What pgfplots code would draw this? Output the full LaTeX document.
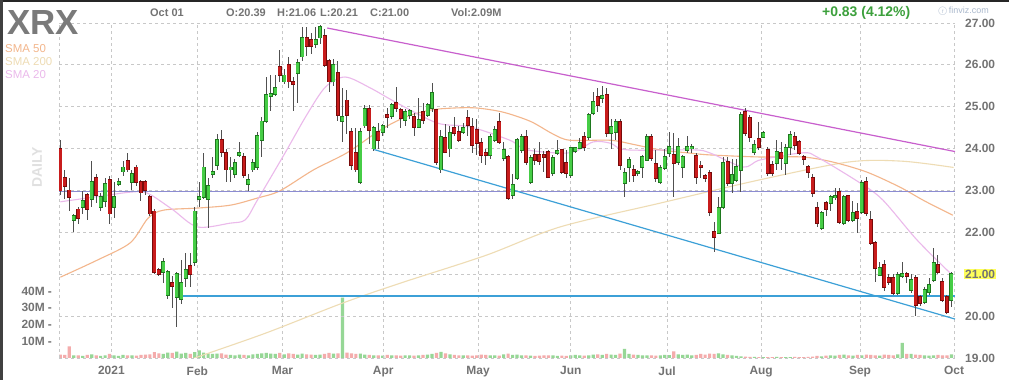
\documentclass[border=0pt]{standalone}
\usepackage{pgfplots}
\pgfplotsset{compat=1.18}
\usepackage{pgfplotstable}
\usepackage{fontspec}
\setmainfont{Liberation Sans}
\definecolor{cgreen}{RGB}{70,205,70}
\definecolor{cgreenD}{RGB}{30,120,30}
\definecolor{cred}{RGB}{200,28,28}
\definecolor{credD}{RGB}{120,10,10}
\definecolor{wickc}{RGB}{80,80,80}
\definecolor{gridc}{RGB}{200,200,200}
\definecolor{lblc}{RGB}{115,115,115}
\definecolor{sma50}{RGB}{243,182,140}
\definecolor{sma200}{RGB}{238,220,180}
\definecolor{sma20}{RGB}{235,185,235}
\definecolor{trendm}{RGB}{200,95,205}
\definecolor{trendb}{RGB}{60,160,215}
\definecolor{hline}{RGB}{140,140,210}
\definecolor{vgreen}{RGB}{150,215,150}
\definecolor{vred}{RGB}{244,172,172}
\definecolor{ylw}{RGB}{255,255,90}
\definecolor{chg}{RGB}{60,160,60}

\pgfplotstableread{
i O H L C V
0 24.00 24.20 22.90 23.00 2.0
1 23.30 23.50 22.80 23.10 1.8
2 23.00 23.30 22.50 22.85 7.0
3 22.30 22.45 22.00 22.40 1.5
4 22.55 22.60 22.20 22.35 1.6
5 22.60 23.00 22.45 22.75 1.2
6 22.90 22.95 22.30 22.55 1.8
7 22.80 23.70 22.60 23.20 2.2
8 23.30 23.40 22.70 22.90 1.5
9 22.60 22.95 22.50 22.85 1.3
10 22.75 23.30 22.60 23.15 1.6
11 23.25 23.35 22.20 22.45 2.4
12 22.60 23.20 22.35 22.85 1.5
13 23.15 23.30 23.10 23.20 1.2
14 23.45 23.70 23.35 23.55 1.8
15 23.70 23.90 23.45 23.50 1.5
16 23.20 23.50 23.00 23.40 1.6
17 23.55 23.60 23.10 23.20 1.4
18 23.20 23.25 22.75 22.95 1.8
19 23.20 23.25 22.90 23.00 2.0
20 22.85 22.90 22.40 22.45 2.2
21 22.50 22.55 21.00 21.05 3.5
22 21.10 21.15 20.95 21.00 2.8
23 21.05 21.40 20.80 21.30 2.5
24 20.50 21.10 20.40 21.05 3.2
25 20.80 20.95 20.20 20.72 3.0
26 20.45 21.05 19.75 21.00 3.8
27 20.40 21.35 20.30 20.80 2.6
28 20.90 21.50 20.70 21.10 3.0
29 21.20 21.50 20.70 21.00 2.4
30 21.30 22.60 21.20 22.50 3.5
31 22.80 23.20 22.60 22.85 4.5
32 22.85 23.90 22.80 23.55 3.2
33 22.80 23.30 22.10 23.10 2.8
34 23.40 23.80 23.30 23.45 2.4
35 23.60 24.35 23.50 24.20 2.6
36 24.20 24.45 23.80 23.92 2.8
37 23.90 24.00 23.20 23.50 2.0
38 23.50 23.80 23.20 23.55 1.8
39 23.40 23.75 23.30 23.65 1.6
40 23.85 24.15 23.80 23.90 2.0
41 23.80 23.90 23.30 23.37 1.8
42 23.15 23.40 23.00 23.25 1.6
43 23.50 23.75 23.45 23.65 2.2
44 23.55 24.40 23.50 24.30 2.5
45 24.20 24.75 23.80 24.65 2.8
46 24.65 25.70 24.60 25.28 3.0
47 25.25 25.75 24.90 25.30 2.6
48 25.30 25.75 25.25 25.45 2.4
49 25.95 26.35 25.60 25.75 3.0
50 25.60 25.90 25.55 25.75 2.2
51 26.00 26.20 25.45 25.60 2.8
52 25.60 25.70 24.90 25.55 2.4
53 25.80 26.15 25.10 26.05 2.0
54 26.20 26.90 26.10 26.65 2.6
55 26.65 26.90 26.20 26.45 2.2
56 26.60 26.75 26.25 26.45 2.0
57 26.50 26.90 26.40 26.60 1.8
58 26.65 26.95 26.50 26.90 2.0
59 26.70 26.85 25.95 26.00 2.4
60 26.10 26.15 25.35 25.60 3.0
61 25.60 26.15 25.50 26.00 2.6
62 25.80 26.10 24.65 24.80 2.8
63 24.65 25.45 24.15 24.75 36.0
64 25.15 25.40 24.35 24.80 3.2
65 24.40 24.50 23.50 23.60 2.8
66 23.90 24.50 23.45 23.50 2.4
67 23.20 24.50 23.15 24.40 2.6
68 24.55 25.05 24.50 24.95 2.0
69 24.95 25.05 24.10 24.45 1.8
70 24.00 24.55 23.95 24.50 1.6
71 24.40 24.60 24.00 24.20 1.5
72 24.40 24.60 24.30 24.55 1.4
73 24.80 24.97 24.50 24.75 1.8
74 24.78 25.10 24.70 25.04 1.6
75 25.10 25.47 24.87 24.97 1.5
76 24.92 24.97 24.50 24.73 1.4
77 24.68 24.95 24.55 24.87 1.6
78 24.80 24.95 24.70 24.90 1.5
79 24.76 24.85 24.30 24.52 1.4
80 24.52 25.20 24.50 24.68 1.6
81 24.87 25.10 24.60 24.68 1.8
82 24.80 25.10 24.75 25.04 2.0
83 24.97 25.57 24.87 25.33 2.5
84 24.92 24.95 23.60 23.68 3.0
85 23.50 24.45 23.42 24.28 3.6
86 24.25 24.60 23.90 23.92 2.8
87 24.00 24.55 23.80 24.37 2.2
88 24.50 24.75 24.30 24.37 1.8
89 24.40 24.55 24.15 24.20 1.6
90 24.40 24.60 24.35 24.50 1.5
91 24.73 24.92 24.30 24.56 1.6
92 24.52 24.73 23.90 24.08 1.4
93 24.44 24.70 23.85 24.13 1.5
94 24.13 24.25 23.65 23.85 2.0
95 23.90 24.00 23.60 23.85 1.8
96 23.85 24.35 23.75 24.28 1.6
97 24.20 24.55 24.15 24.44 1.5
98 24.64 24.85 24.10 24.16 1.4
99 23.78 24.15 23.70 23.97 2.2
100 23.80 23.85 22.78 22.82 2.6
101 22.90 23.40 22.80 23.13 1.8
102 23.30 24.25 23.25 24.20 2.0
103 23.97 24.35 23.90 24.28 1.6
104 24.28 24.44 23.60 23.68 1.5
105 23.20 23.85 23.15 23.78 1.4
106 23.85 24.00 23.60 23.73 1.3
107 23.85 24.15 23.60 23.70 1.4
108 23.85 23.95 23.45 23.80 1.5
109 23.92 23.97 23.30 23.32 1.6
110 23.42 23.85 23.35 23.78 1.5
111 23.90 24.20 23.85 23.95 1.3
112 23.97 24.00 23.40 23.44 1.4
113 23.66 23.97 23.30 23.42 1.2
114 23.37 24.05 23.30 24.02 1.6
115 23.95 24.05 23.90 24.02 1.8
116 24.02 24.25 24.00 24.13 1.5
117 24.28 24.40 23.95 24.04 1.4
118 24.28 24.85 24.20 24.80 1.6
119 24.85 25.35 24.80 25.11 2.0
120 25.23 25.45 24.87 25.04 2.2
121 25.20 25.50 25.10 25.25 1.8
122 25.28 25.45 24.28 24.37 2.4
123 24.37 24.70 24.00 24.52 2.0
124 24.40 24.70 24.20 24.64 1.8
125 24.64 24.70 23.50 23.61 2.6
126 23.18 23.54 22.85 23.42 5.5
127 23.56 23.80 23.20 23.73 2.4
128 23.49 23.60 23.20 23.37 2.0
129 23.42 23.50 23.35 23.44 1.8
130 23.56 23.85 23.30 23.80 1.6
131 23.73 24.35 23.70 24.28 1.6
132 24.28 24.35 23.70 23.78 1.5
133 23.63 23.97 23.20 23.30 1.4
134 23.20 23.60 23.15 23.54 1.6
135 23.54 24.00 23.50 23.80 1.8
136 23.90 24.40 23.80 24.04 1.7
137 23.85 24.37 22.85 23.66 4.0
138 23.68 24.25 23.60 24.04 2.2
139 23.56 23.85 23.30 23.80 1.8
140 23.97 24.30 23.90 24.04 2.0
141 24.00 24.10 23.90 24.05 1.6
142 23.83 23.90 23.15 23.32 1.8
143 23.60 23.70 23.30 23.55 2.4
144 23.35 23.40 23.20 23.30 2.0
145 23.42 23.50 22.40 22.49 2.6
146 22.01 22.25 21.53 21.89 2.4
147 21.99 22.85 21.95 22.58 2.8
148 22.61 23.80 22.55 23.66 2.2
149 23.68 23.80 23.10 23.18 1.8
150 23.18 23.75 22.95 23.37 1.5
151 23.25 23.75 23.20 23.56 1.2
152 23.49 24.87 22.96 24.80 1.0
153 24.87 24.97 24.30 24.37 0.8
154 24.73 24.80 24.15 24.28 0.6
155 23.92 24.20 23.85 24.08 0.6
156 24.23 24.64 23.97 24.04 0.5
157 24.28 24.42 24.25 24.37 0.5
158 23.97 24.05 23.35 23.42 0.5
159 23.61 23.70 23.35 23.42 0.5
160 23.66 24.20 23.50 23.92 0.6
161 23.90 24.15 23.50 23.78 0.5
162 23.66 24.10 23.37 24.02 0.5
163 24.04 24.42 23.85 24.33 0.5
164 24.28 24.40 23.97 24.08 0.6
165 24.16 24.20 23.85 23.90 0.5
166 23.80 23.85 23.60 23.76 0.5
167 23.56 23.60 23.30 23.44 0.6
168 23.30 23.40 22.85 22.94 0.8
169 22.58 22.72 22.13 22.22 1.2
170 22.10 22.50 22.05 22.46 1.0
171 22.70 22.75 22.40 22.56 1.4
172 22.70 22.90 22.50 22.85 1.6
173 22.83 23.05 22.78 22.88 1.4
174 22.96 23.05 22.20 22.25 1.8
175 22.22 22.90 22.18 22.85 2.0
176 22.87 22.90 22.25 22.30 1.6
177 22.30 22.75 22.25 22.46 1.4
178 22.49 22.70 21.98 22.35 1.8
179 22.49 23.25 22.45 23.18 1.6
180 23.20 23.32 22.40 22.46 2.0
181 22.30 22.50 21.70 21.75 1.8
182 21.75 21.80 20.81 21.15 1.6
183 20.98 21.30 20.95 21.15 1.4
184 21.22 21.35 20.60 20.70 2.0
185 20.92 21.00 20.75 20.82 1.8
186 20.91 21.00 20.50 20.55 1.6
187 20.55 21.05 20.50 20.98 2.2
188 20.95 21.30 20.90 21.00 9.0
189 21.00 21.05 20.80 20.95 2.4
190 20.62 21.00 20.55 20.86 2.4
191 20.91 20.98 20.00 20.26 2.0
192 20.46 20.50 20.25 20.31 1.8
193 20.34 20.70 20.30 20.62 1.6
194 20.58 20.90 20.50 20.74 1.4
195 20.86 21.63 20.82 21.27 1.5
196 21.22 21.45 21.00 21.05 1.8
197 20.81 20.90 20.33 20.38 1.6
198 20.46 20.50 20.05 20.10 1.6
199 20.39 21.06 20.21 21.00 2.09
}\candles

\begin{document}
\begin{tikzpicture}
\useasboundingbox (0,0) rectangle (1009bp,380bp);
\fill[white] (0,0) rectangle (1009bp,380bp);
\fill[black!85] (0,378bp) rectangle (1009bp,380bp);
\fill[black!75] (0,0) rectangle (2.5bp,380bp);

% ---------- volume axis ----------
\begin{axis}[
  at={(59bp,22bp)}, anchor=south west,
  width=896bp, height=335bp, scale only axis,
  xmin=-0.3, xmax=199.8, ymin=0, ymax=200,
  axis line style={draw=none},
  xtick=\empty,
  ytick={10,20,30,40},
  yticklabels={10M\hspace{3bp}-,20M\hspace{3bp}-,30M\hspace{3bp}-,40M\hspace{3bp}-},
  ytick pos=left, major tick length=0pt,
  yticklabel style={font=\fontsize{12}{12}\selectfont\bfseries, text=lblc, anchor=east, inner sep=1bp, xshift=-6bp},
  clip=true,
]
\addplot[ybar, bar width=3.2bp, bar shift=0pt, fill=vgreen, draw=none]
  table[x=i, y expr={\thisrow{C}>=\thisrow{O} ? \thisrow{V} : nan}] {\candles};
\addplot[ybar, bar width=3.2bp, bar shift=0pt, fill=vred, draw=none]
  table[x=i, y expr={\thisrow{C}<\thisrow{O} ? \thisrow{V} : nan}] {\candles};
\end{axis}

% ---------- price axis ----------
\begin{axis}[
  at={(59bp,22bp)}, anchor=south west,
  width=896bp, height=335bp, scale only axis,
  xmin=-0.3, xmax=199.8, ymin=19, ymax=27,
  axis line style={draw=none},
  major tick length=0pt,
  xtick={11.4,30.6,49.6,72.1,93.3,114,135.5,156.5,178.6,199.6},
  xticklabels={2021,Feb,Mar,Apr,May,Jun,Jul,Aug,Sep,Oct},
  xtick pos=bottom,
  extra x ticks={-0.25}, extra x tick labels={},
  extra x tick style={grid=major},
  ytick={19,20,22,23,24,25,26,27},
  yticklabels={19.00,20.00,22.00,23.00,24.00,25.00,26.00,27.00},
  extra y ticks={21}, extra y tick labels={21.00},
  extra y tick style={grid=major, yticklabel style={fill=ylw}},
  yticklabel pos=right,
  grid=major,
  grid style={gridc, dash pattern=on 3bp off 3bp, line width=0.8bp},
  tick label style={font=\fontsize{12}{12}\selectfont\bfseries, text=lblc},
  yticklabel style={anchor=west, inner sep=1bp, xshift=9bp},
  xticklabel style={yshift=-5bp},
  clip=true,
]
% moving averages
\addplot[sma200, line width=1.1bp, smooth, forget plot] coordinates {
(25,18.8) (30,19.0) (46,19.6) (63,20.31) (76,20.79) (95,21.45) (111.6,22.13)
(134,22.7) (156,23.25) (176,23.68) (188,23.7) (199.5,23.55)};
\addplot[sma50, line width=1.1bp, smooth, forget plot] coordinates {
(0,20.93) (8.3,21.34) (15.6,21.75) (19.6,22.34) (23,22.53) (30.6,22.58) (38,22.65)
(44,22.82) (49,22.99) (56.5,23.49) (64,23.9) (71.4,24.44) (77,24.75) (82.6,24.92)
(88,24.97) (93,24.97) (98.9,24.87) (105,24.65) (110,24.35) (113.8,24.2) (122.8,24.2)
(128,24.1) (133.9,23.97) (140,23.9) (145,23.85) (156.3,23.8) (165.8,23.8) (172.5,23.68)
(180.1,23.44) (187.5,23.08) (193,22.75) (199.3,22.41)};
\addplot[sma20, line width=1.1bp, smooth, forget plot] coordinates {
(0,22.73) (8,22.85) (15.6,22.96) (19.4,22.94) (25,22.55) (30.6,22.13) (37.9,22.22)
(41.3,22.3) (44,22.77) (50.2,23.9) (55,24.8) (59.2,25.47) (63.6,25.71) (69.2,25.45)
(75.2,25.09) (84.2,24.61) (91.5,24.52) (100.4,24.2) (104.2,23.97) (113.8,23.9)
(119,24.16) (122.8,24.13) (126.6,23.97) (141.3,23.97) (145,23.9) (152.5,23.56)
(156.3,23.73) (165.8,23.9) (169,23.8) (178.6,23.18) (183.7,22.77) (191.3,21.82) (198.7,21.03)};
% drawn lines
\addplot[hline, line width=1.6bp, forget plot] coordinates {(-0.3,22.98) (199.8,22.98)};
\addplot[trendb, line width=1.2bp, forget plot] coordinates {(27.2,20.48) (199.8,20.48)};
\addplot[trendb, line width=1.2bp, forget plot] coordinates {(70,23.98) (199.8,19.93)};
\addplot[trendm, line width=1.2bp, forget plot] coordinates {(59.6,26.88) (199.8,23.93)};
% wicks
\addplot[draw=none, mark=none, forget plot,
  error bars/.cd, y dir=both, y explicit, error mark=none,
  error bar style={draw=wickc, solid, line width=1bp}]
  table[x=i, y expr={(\thisrow{H}+\thisrow{L})/2}, y error expr={(\thisrow{H}-\thisrow{L})/2}] {\candles};
% green bodies
\addplot[draw=none, mark=none, forget plot,
  error bars/.cd, y dir=both, y explicit, error mark=none,
  error bar style={draw=cgreenD, solid, line width=4bp}]
  table[x=i, y expr={\thisrow{C}>=\thisrow{O} ? (\thisrow{O}+\thisrow{C})/2 : nan},
        y error expr={abs(\thisrow{C}-\thisrow{O})/2+0.02}] {\candles};
\addplot[draw=none, mark=none, forget plot,
  error bars/.cd, y dir=both, y explicit, error mark=none,
  error bar style={draw=cgreen, solid, line width=2.8bp}]
  table[x=i, y expr={\thisrow{C}>=\thisrow{O} ? (\thisrow{O}+\thisrow{C})/2 : nan},
        y error expr={abs(\thisrow{C}-\thisrow{O})/2}] {\candles};
% red bodies
\addplot[draw=none, mark=none, forget plot,
  error bars/.cd, y dir=both, y explicit, error mark=none,
  error bar style={draw=credD, solid, line width=4bp}]
  table[x=i, y expr={\thisrow{C}<\thisrow{O} ? (\thisrow{O}+\thisrow{C})/2 : nan},
        y error expr={abs(\thisrow{C}-\thisrow{O})/2+0.02}] {\candles};
\addplot[draw=none, mark=none, forget plot,
  error bars/.cd, y dir=both, y explicit, error mark=none,
  error bar style={draw=cred, solid, line width=2.8bp}]
  table[x=i, y expr={\thisrow{C}<\thisrow{O} ? (\thisrow{O}+\thisrow{C})/2 : nan},
        y error expr={abs(\thisrow{C}-\thisrow{O})/2}] {\candles};
\end{axis}

% ---------- header texts ----------
\node[anchor=base west, inner sep=0, font=\fontsize{35}{35}\selectfont\bfseries, text=black!52] at (7bp,345bp) {XRX};
\node[anchor=base west, inner sep=0, font=\fontsize{11.5}{12}\selectfont, text=sma50] at (5bp,327bp) {SMA 50};
\node[anchor=base west, inner sep=0, font=\fontsize{11.5}{12}\selectfont, text=sma200] at (5bp,314bp) {SMA 200};
\node[anchor=base west, inner sep=0, font=\fontsize{11.5}{12}\selectfont, text=sma20] at (5bp,301bp) {SMA 20};
\node[rotate=90, inner sep=0, font=\fontsize{14}{14}\selectfont\bfseries, text=black!12] at (37bp,213bp) {DAILY};
\begin{scope}[every node/.style={anchor=base west, inner sep=0, font=\fontsize{11}{12}\selectfont\bfseries, text=lblc}]
\node at (150bp,363bp) {Oct 01};
\node at (226bp,363bp) {O:20.39};
\node at (277bp,363bp) {H:21.06};
\node at (320bp,363bp) {L:20.21};
\node at (370bp,363bp) {C:21.00};
\node at (451bp,363bp) {Vol:2.09M};
\end{scope}
\node[anchor=base west, inner sep=0, font=\fontsize{14}{14}\selectfont\bfseries, text=chg] at (822bp,363bp) {+0.83 (4.12\%)};
\node[anchor=base west, inner sep=0, font=\fontsize{9}{9}\selectfont, text={rgb,255:red,170;green,185;blue,205}] at (938bp,366bp) {\textcircled{\tiny f}\,finviz.com};
\end{tikzpicture}
\end{document}
